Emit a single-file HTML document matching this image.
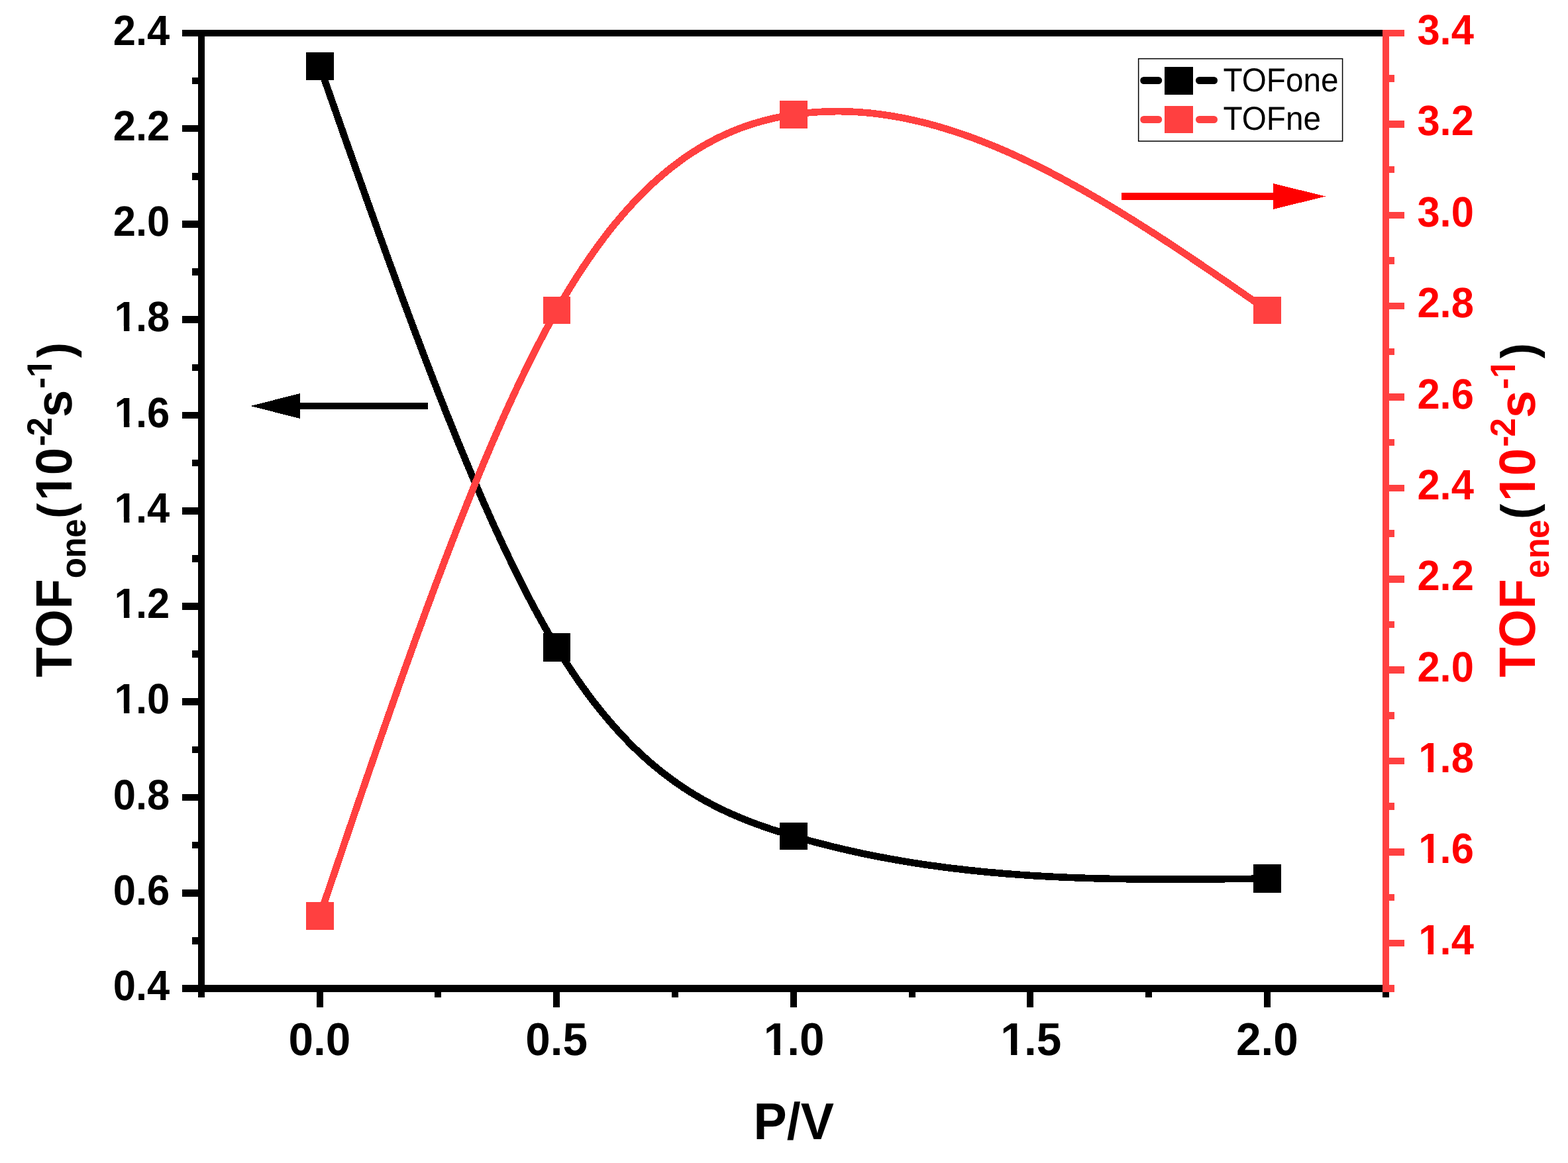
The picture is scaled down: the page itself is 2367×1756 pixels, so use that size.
<!DOCTYPE html>
<html lang="en">
<head>
<meta charset="utf-8">
<title>TOF vs P/V</title>
<style>
html,body{margin:0;padding:0;background:#fff}
body{width:2367px;height:1756px;overflow:hidden}
svg{display:block}
</style>
</head>
<body>
<svg width="2367" height="1756" viewBox="0 0 2367 1756" font-family="'Liberation Sans', sans-serif" text-rendering="geometricPrecision">
<rect width="2367" height="1756" fill="#fff"/>
<defs><clipPath id="c1"><path clip-rule="evenodd" d="M-900 -900H900V900H-900ZM4.67 -7.88H16.15V2.00H4.67ZM24.59 -7.88H35.29V2.00H24.59Z"/></clipPath><clipPath id="c2"><path clip-rule="evenodd" d="M-900 -900H900V900H-900ZM5.23 -8.49H17.73V2.00H5.23ZM26.99 -8.49H38.64V2.00H26.99Z"/></clipPath><clipPath id="c3"><path clip-rule="evenodd" d="M-900 -900H900V900H-900ZM269.57 -9.17H283.22V2.00H269.57ZM293.40 -9.17H306.10V2.00H293.40ZM454.26 -35.75H463.95V-26.94H454.26ZM470.95 -35.75H479.99V-26.94H470.95Z"/></clipPath><clipPath id="c4"><path clip-rule="evenodd" d="M-900 -900H900V900H-900ZM268.57 -9.17H282.22V2.00H268.57ZM292.40 -9.17H305.10V2.00H292.40ZM453.26 -35.75H462.95V-26.94H453.26ZM469.95 -35.75H478.99V-26.94H469.95Z"/></clipPath></defs>
<g shape-rendering="crispEdges">
<polyline points="482.8,100.0 490.7,122.7 498.7,145.4 506.6,168.0 514.6,190.7 522.5,213.3 530.5,235.8 538.4,258.3 546.4,280.7 554.3,303.1 562.3,325.3 570.2,347.5 578.2,369.6 586.1,391.5 594.1,413.3 602.0,435.0 609.9,456.6 617.9,478.0 625.8,499.2 633.8,520.3 641.7,541.2 649.7,561.9 657.6,582.4 665.6,602.7 673.5,622.8 681.5,642.6 689.4,662.3 697.4,681.6 705.3,700.7 713.3,719.6 721.2,738.2 729.1,756.5 737.1,774.5 745.0,792.2 753.0,809.5 760.9,826.6 768.9,843.3 776.8,859.7 784.8,875.8 792.7,891.5 800.7,906.8 808.6,921.7 816.6,936.3 824.5,950.4 832.5,964.2 840.4,977.5 848.3,990.4 856.3,1002.9 864.2,1015.0 872.2,1026.7 880.1,1038.0 888.1,1048.9 896.0,1059.4 904.0,1069.5 911.9,1079.3 919.9,1088.8 927.8,1097.9 935.8,1106.7 943.7,1115.1 951.7,1123.3 959.6,1131.1 967.5,1138.6 975.5,1145.8 983.4,1152.8 991.4,1159.4 999.3,1165.8 1007.3,1171.9 1015.2,1177.8 1023.2,1183.5 1031.1,1188.9 1039.1,1194.0 1047.0,1199.0 1055.0,1203.7 1062.9,1208.3 1070.9,1212.6 1078.8,1216.8 1086.7,1220.8 1094.7,1224.6 1102.6,1228.2 1110.6,1231.7 1118.5,1235.1 1126.5,1238.3 1134.4,1241.4 1142.4,1244.4 1150.3,1247.2 1158.3,1250.0 1166.2,1252.7 1174.2,1255.2 1182.1,1257.7 1190.1,1260.1 1198.0,1262.5 1205.9,1264.8 1213.9,1267.1 1221.8,1269.3 1229.8,1271.4 1237.7,1273.5 1245.7,1275.5 1253.6,1277.5 1261.6,1279.5 1269.5,1281.4 1277.5,1283.2 1285.4,1285.0 1293.4,1286.8 1301.3,1288.5 1309.3,1290.1 1317.2,1291.7 1325.1,1293.3 1333.1,1294.8 1341.0,1296.3 1349.0,1297.7 1356.9,1299.1 1364.9,1300.5 1372.8,1301.8 1380.8,1303.1 1388.7,1304.3 1396.7,1305.5 1404.6,1306.6 1412.6,1307.7 1420.5,1308.8 1428.5,1309.9 1436.4,1310.9 1444.3,1311.8 1452.3,1312.7 1460.2,1313.6 1468.2,1314.5 1476.1,1315.3 1484.1,1316.1 1492.0,1316.9 1500.0,1317.6 1507.9,1318.3 1515.9,1319.0 1523.8,1319.6 1531.8,1320.2 1539.7,1320.8 1547.7,1321.3 1555.6,1321.9 1563.5,1322.4 1571.5,1322.8 1579.4,1323.3 1587.4,1323.7 1595.3,1324.1 1603.3,1324.4 1611.2,1324.8 1619.2,1325.1 1627.1,1325.4 1635.1,1325.7 1643.0,1326.0 1651.0,1326.2 1658.9,1326.4 1666.9,1326.6 1674.8,1326.8 1682.7,1326.9 1690.7,1327.1 1698.6,1327.2 1706.6,1327.3 1714.5,1327.4 1722.5,1327.5 1730.4,1327.6 1738.4,1327.6 1746.3,1327.7 1754.3,1327.7 1762.2,1327.7 1770.2,1327.7 1778.1,1327.7 1786.1,1327.7 1794.0,1327.7 1801.9,1327.6 1809.9,1327.6 1817.8,1327.5 1825.8,1327.5 1833.7,1327.4 1841.7,1327.3 1849.6,1327.2 1857.6,1327.2 1865.5,1327.1 1873.5,1327.0 1881.4,1326.9 1889.4,1326.8 1897.3,1326.7 1905.3,1326.6 1913.2,1326.5" fill="none" stroke="#000" stroke-width="10.6" stroke-linejoin="round"/>
<polyline points="482.8,1383.0 490.7,1359.5 498.7,1336.0 506.6,1312.6 514.6,1289.2 522.5,1265.8 530.5,1242.4 538.4,1219.2 546.4,1195.9 554.3,1172.8 562.3,1149.7 570.2,1126.8 578.2,1103.9 586.1,1081.2 594.1,1058.5 602.0,1036.0 609.9,1013.7 617.9,991.5 625.8,969.4 633.8,947.5 641.7,925.8 649.7,904.3 657.6,883.0 665.6,861.9 673.5,841.0 681.5,820.3 689.4,799.9 697.4,779.7 705.3,759.8 713.3,740.1 721.2,720.7 729.1,701.5 737.1,682.7 745.0,664.2 753.0,645.9 760.9,628.0 768.9,610.4 776.8,593.2 784.8,576.3 792.7,559.8 800.7,543.6 808.6,527.8 816.6,512.4 824.5,497.3 832.5,482.7 840.4,468.5 848.3,454.7 856.3,441.3 864.2,428.4 872.2,415.8 880.1,403.6 888.1,391.9 896.0,380.5 904.0,369.5 911.9,358.8 919.9,348.5 927.8,338.6 935.8,329.1 943.7,319.9 951.7,311.0 959.6,302.5 967.5,294.3 975.5,286.4 983.4,278.8 991.4,271.6 999.3,264.7 1007.3,258.0 1015.2,251.7 1023.2,245.6 1031.1,239.8 1039.1,234.3 1047.0,229.1 1055.0,224.2 1062.9,219.4 1070.9,215.0 1078.8,210.8 1086.7,206.8 1094.7,203.1 1102.6,199.6 1110.6,196.3 1118.5,193.2 1126.5,190.3 1134.4,187.7 1142.4,185.2 1150.3,183.0 1158.3,180.9 1166.2,179.0 1174.2,177.2 1182.1,175.7 1190.1,174.3 1198.0,173.0 1205.9,171.9 1213.9,170.9 1221.8,170.1 1229.8,169.5 1237.7,168.9 1245.7,168.6 1253.6,168.3 1261.6,168.2 1269.5,168.2 1277.5,168.4 1285.4,168.7 1293.4,169.1 1301.3,169.7 1309.3,170.3 1317.2,171.1 1325.1,172.1 1333.1,173.1 1341.0,174.3 1349.0,175.6 1356.9,177.0 1364.9,178.5 1372.8,180.2 1380.8,181.9 1388.7,183.8 1396.7,185.7 1404.6,187.8 1412.6,190.0 1420.5,192.3 1428.5,194.7 1436.4,197.2 1444.3,199.8 1452.3,202.4 1460.2,205.2 1468.2,208.1 1476.1,211.1 1484.1,214.1 1492.0,217.3 1500.0,220.5 1507.9,223.8 1515.9,227.2 1523.8,230.7 1531.8,234.3 1539.7,238.0 1547.7,241.7 1555.6,245.5 1563.5,249.4 1571.5,253.3 1579.4,257.3 1587.4,261.4 1595.3,265.6 1603.3,269.8 1611.2,274.1 1619.2,278.5 1627.1,282.9 1635.1,287.3 1643.0,291.9 1651.0,296.5 1658.9,301.1 1666.9,305.8 1674.8,310.5 1682.7,315.3 1690.7,320.2 1698.6,325.1 1706.6,330.0 1714.5,335.0 1722.5,340.0 1730.4,345.0 1738.4,350.1 1746.3,355.3 1754.3,360.4 1762.2,365.6 1770.2,370.9 1778.1,376.1 1786.1,381.4 1794.0,386.7 1801.9,392.1 1809.9,397.4 1817.8,402.8 1825.8,408.2 1833.7,413.6 1841.7,419.1 1849.6,424.5 1857.6,430.0 1865.5,435.5 1873.5,441.0 1881.4,446.5 1889.4,452.0 1897.3,457.5 1905.3,463.0 1913.2,468.5" fill="none" stroke="#FF4040" stroke-width="10.6" stroke-linejoin="round"/>
<rect x="462" y="79" width="42" height="42" fill="#000"/>
<rect x="820" y="956" width="41" height="43" fill="#000"/>
<rect x="1177" y="1242" width="42" height="41" fill="#000"/>
<rect x="1892" y="1305" width="42" height="43" fill="#000"/>
<rect x="462" y="1362" width="42" height="42" fill="#FF4040"/>
<rect x="820" y="448" width="41" height="41" fill="#FF4040"/>
<rect x="1177" y="152" width="42" height="42" fill="#FF4040"/>
<rect x="1892" y="448" width="42" height="41" fill="#FF4040"/>
</g>
<g shape-rendering="crispEdges">
<rect x="275" y="45" width="1812" height="10" fill="#000"/>
<rect x="275" y="1487" width="1812" height="11" fill="#000"/>
<rect x="299" y="45" width="10" height="1461" fill="#000"/>
<rect x="2087" y="1498" width="10" height="8" fill="#000"/>
<rect x="290" y="1415" width="9" height="11" fill="#000"/>
<rect x="275" y="1343" width="24" height="11" fill="#000"/>
<rect x="290" y="1271" width="9" height="10" fill="#000"/>
<rect x="275" y="1199" width="24" height="10" fill="#000"/>
<rect x="290" y="1127" width="9" height="10" fill="#000"/>
<rect x="275" y="1054" width="24" height="11" fill="#000"/>
<rect x="290" y="982" width="9" height="11" fill="#000"/>
<rect x="275" y="910" width="24" height="11" fill="#000"/>
<rect x="290" y="838" width="9" height="11" fill="#000"/>
<rect x="275" y="766" width="24" height="11" fill="#000"/>
<rect x="290" y="694" width="9" height="10" fill="#000"/>
<rect x="275" y="622" width="24" height="10" fill="#000"/>
<rect x="290" y="550" width="9" height="10" fill="#000"/>
<rect x="275" y="477" width="24" height="11" fill="#000"/>
<rect x="290" y="405" width="9" height="11" fill="#000"/>
<rect x="275" y="333" width="24" height="11" fill="#000"/>
<rect x="290" y="261" width="9" height="11" fill="#000"/>
<rect x="275" y="189" width="24" height="10" fill="#000"/>
<rect x="290" y="117" width="9" height="10" fill="#000"/>
<rect x="478" y="1498" width="10" height="23" fill="#000"/>
<rect x="656" y="1498" width="10" height="8" fill="#000"/>
<rect x="835" y="1498" width="10" height="23" fill="#000"/>
<rect x="1014" y="1498" width="10" height="8" fill="#000"/>
<rect x="1193" y="1498" width="10" height="23" fill="#000"/>
<rect x="1372" y="1498" width="10" height="8" fill="#000"/>
<rect x="1550" y="1498" width="10" height="23" fill="#000"/>
<rect x="1729" y="1498" width="10" height="8" fill="#000"/>
<rect x="1908" y="1498" width="10" height="23" fill="#000"/>
<rect x="2087" y="45" width="10" height="1453" fill="#FF4040"/>
<rect x="2097" y="1487" width="8" height="11" fill="#FF4040"/>
<rect x="2097" y="1419" width="23" height="10" fill="#FF4040"/>
<rect x="2097" y="1350" width="8" height="10" fill="#FF4040"/>
<rect x="2097" y="1281" width="23" height="11" fill="#FF4040"/>
<rect x="2097" y="1212" width="8" height="11" fill="#FF4040"/>
<rect x="2097" y="1144" width="23" height="10" fill="#FF4040"/>
<rect x="2097" y="1075" width="8" height="11" fill="#FF4040"/>
<rect x="2097" y="1006" width="23" height="11" fill="#FF4040"/>
<rect x="2097" y="938" width="8" height="10" fill="#FF4040"/>
<rect x="2097" y="869" width="23" height="11" fill="#FF4040"/>
<rect x="2097" y="800" width="8" height="11" fill="#FF4040"/>
<rect x="2097" y="732" width="23" height="10" fill="#FF4040"/>
<rect x="2097" y="663" width="8" height="10" fill="#FF4040"/>
<rect x="2097" y="594" width="23" height="11" fill="#FF4040"/>
<rect x="2097" y="526" width="8" height="10" fill="#FF4040"/>
<rect x="2097" y="457" width="23" height="10" fill="#FF4040"/>
<rect x="2097" y="388" width="8" height="11" fill="#FF4040"/>
<rect x="2097" y="320" width="23" height="10" fill="#FF4040"/>
<rect x="2097" y="251" width="8" height="10" fill="#FF4040"/>
<rect x="2097" y="182" width="23" height="11" fill="#FF4040"/>
<rect x="2097" y="113" width="8" height="11" fill="#FF4040"/>
<rect x="2097" y="45" width="23" height="10" fill="#FF4040"/>
</g>
<text transform="translate(170.81 1510.10) scale(1 1.04)" font-size="61.5" font-weight="bold">0.4</text>
<text transform="translate(170.81 1365.85) scale(1 1.04)" font-size="61.5" font-weight="bold">0.6</text>
<text transform="translate(170.81 1221.60) scale(1 1.04)" font-size="61.5" font-weight="bold">0.8</text>
<text transform="translate(170.81 1077.35) scale(1 1.04)" font-size="61.5" font-weight="bold" clip-path="url(#c1)"><tspan dx="1.80">1</tspan><tspan dx="-1.80">.0</tspan></text>
<text transform="translate(170.81 933.10) scale(1 1.04)" font-size="61.5" font-weight="bold" clip-path="url(#c1)"><tspan dx="1.80">1</tspan><tspan dx="-1.80">.2</tspan></text>
<text transform="translate(170.81 788.85) scale(1 1.04)" font-size="61.5" font-weight="bold" clip-path="url(#c1)"><tspan dx="1.80">1</tspan><tspan dx="-1.80">.4</tspan></text>
<text transform="translate(170.81 644.60) scale(1 1.04)" font-size="61.5" font-weight="bold" clip-path="url(#c1)"><tspan dx="1.80">1</tspan><tspan dx="-1.80">.6</tspan></text>
<text transform="translate(170.81 500.35) scale(1 1.04)" font-size="61.5" font-weight="bold" clip-path="url(#c1)"><tspan dx="1.80">1</tspan><tspan dx="-1.80">.8</tspan></text>
<text transform="translate(170.81 356.10) scale(1 1.04)" font-size="61.5" font-weight="bold">2.0</text>
<text transform="translate(170.81 211.85) scale(1 1.04)" font-size="61.5" font-weight="bold">2.2</text>
<text transform="translate(170.81 67.60) scale(1 1.04)" font-size="61.5" font-weight="bold">2.4</text>
<text transform="translate(2139.40 1440.81) scale(1 1.04)" font-size="61.5" font-weight="bold" fill="#FF0000" clip-path="url(#c1)"><tspan dx="1.80">1</tspan><tspan dx="-1.80">.4</tspan></text>
<text transform="translate(2139.40 1303.43) scale(1 1.04)" font-size="61.5" font-weight="bold" fill="#FF0000" clip-path="url(#c1)"><tspan dx="1.80">1</tspan><tspan dx="-1.80">.6</tspan></text>
<text transform="translate(2139.40 1166.05) scale(1 1.04)" font-size="61.5" font-weight="bold" fill="#FF0000" clip-path="url(#c1)"><tspan dx="1.80">1</tspan><tspan dx="-1.80">.8</tspan></text>
<text transform="translate(2139.40 1028.67) scale(1 1.04)" font-size="61.5" font-weight="bold" fill="#FF0000">2.0</text>
<text transform="translate(2139.40 891.29) scale(1 1.04)" font-size="61.5" font-weight="bold" fill="#FF0000">2.2</text>
<text transform="translate(2139.40 753.90) scale(1 1.04)" font-size="61.5" font-weight="bold" fill="#FF0000">2.4</text>
<text transform="translate(2139.40 616.52) scale(1 1.04)" font-size="61.5" font-weight="bold" fill="#FF0000">2.6</text>
<text transform="translate(2139.40 479.14) scale(1 1.04)" font-size="61.5" font-weight="bold" fill="#FF0000">2.8</text>
<text transform="translate(2139.40 341.76) scale(1 1.04)" font-size="61.5" font-weight="bold" fill="#FF0000">3.0</text>
<text transform="translate(2139.40 204.38) scale(1 1.04)" font-size="61.5" font-weight="bold" fill="#FF0000">3.2</text>
<text transform="translate(2139.40 67.00) scale(1 1.04)" font-size="61.5" font-weight="bold" fill="#FF0000">3.4</text>
<text transform="translate(435.58 1593.00) scale(1 1.028)" font-size="67.5" font-weight="bold">0.0</text>
<text transform="translate(793.18 1593.00) scale(1 1.028)" font-size="67.5" font-weight="bold">0.5</text>
<text transform="translate(1150.78 1593.00) scale(1 1.028)" font-size="67.5" font-weight="bold" clip-path="url(#c2)"><tspan dx="1.98">1</tspan><tspan dx="-1.98">.0</tspan></text>
<text transform="translate(1508.38 1593.00) scale(1 1.028)" font-size="67.5" font-weight="bold" clip-path="url(#c2)"><tspan dx="1.98">1</tspan><tspan dx="-1.98">.5</tspan></text>
<text transform="translate(1865.98 1593.00) scale(1 1.028)" font-size="67.5" font-weight="bold">2.0</text>
<text transform="translate(1137.52 1719.90) scale(1 1.04)" font-size="75.3" font-weight="bold">P/V</text>
<text transform="translate(108.1 1022.0) rotate(-90) scale(1 1.04)" font-size="74.2" font-weight="bold" clip-path="url(#c3)"><tspan x="-0.48" y="0.00">T</tspan><tspan x="44.30" y="0.00">O</tspan><tspan x="102.61" y="0.00">F</tspan><tspan x="148.87" y="20.38" font-size="51.0">o</tspan><tspan x="179.47" y="20.38" font-size="51.0">n</tspan><tspan x="210.37" y="20.38" font-size="51.0">e</tspan><tspan x="238.99" y="0.00" font-size="70.0">(</tspan><tspan x="265.90" y="0.00">1</tspan><tspan x="304.67" y="0.00">0</tspan><tspan x="348.33" y="-28.94" font-size="51.0">-</tspan><tspan x="363.46" y="-28.94" font-size="51.0">2</tspan><tspan x="392.13" y="0.00">s</tspan><tspan x="435.28" y="-28.94" font-size="51.0">-</tspan><tspan x="452.05" y="-28.94" font-size="51.0">1</tspan><tspan x="481.70" y="0.00" font-size="70.0">)</tspan></text>
<text transform="translate(2317.1 1022.0) rotate(-90) scale(1 1.04)" font-size="74.2" font-weight="bold" fill="#FF0000" clip-path="url(#c4)"><tspan x="-0.48" y="0.00">T</tspan><tspan x="44.30" y="0.00">O</tspan><tspan x="102.61" y="0.00">F</tspan><tspan x="149.04" y="20.38" font-size="51.0">e</tspan><tspan x="178.62" y="20.38" font-size="51.0">n</tspan><tspan x="209.04" y="20.38" font-size="51.0">e</tspan><tspan x="237.99" y="0.00" font-size="70.0" fill="#000">(</tspan><tspan x="264.90" y="0.00">1</tspan><tspan x="303.67" y="0.00">0</tspan><tspan x="347.33" y="-28.94" font-size="51.0">-</tspan><tspan x="362.46" y="-28.94" font-size="51.0">2</tspan><tspan x="391.13" y="0.00">s</tspan><tspan x="434.28" y="-28.94" font-size="51.0">-</tspan><tspan x="451.05" y="-28.94" font-size="51.0">1</tspan><tspan x="480.70" y="0.00" font-size="70.0" fill="#000">)</tspan></text>
<rect x="1718.65" y="88.65" width="307.95" height="124.5" fill="#fff" stroke="#000" stroke-width="1.5"/>
<path d="M1726.7 121.5H1748.7M1810.5 121.5H1832.5" fill="none" stroke="#000" stroke-width="11" stroke-linecap="round"/>
<rect x="1758" y="101" width="43" height="42" fill="#000"/>
<text transform="translate(1846.50 137.90) scale(1 1.05)" font-size="47.7" font-weight="normal">TOFone</text>
<path d="M1726.7 180.5H1748.7M1810.5 180.5H1832.5" fill="none" stroke="#FF4040" stroke-width="11" stroke-linecap="round"/>
<rect x="1758" y="160" width="43" height="41" fill="#FF4040"/>
<text transform="translate(1846.50 196.10) scale(1 1.05)" font-size="47.7" font-weight="normal">TOFne</text>
<path shape-rendering="crispEdges" d="M1693 291H1922V277L2001 296.5L1922 316V302H1693Z" fill="#FF0000"/>
<path shape-rendering="crispEdges" d="M646 608H453V594L378 613L453 632V618H646Z" fill="#000"/>
</svg>
</body>
</html>
